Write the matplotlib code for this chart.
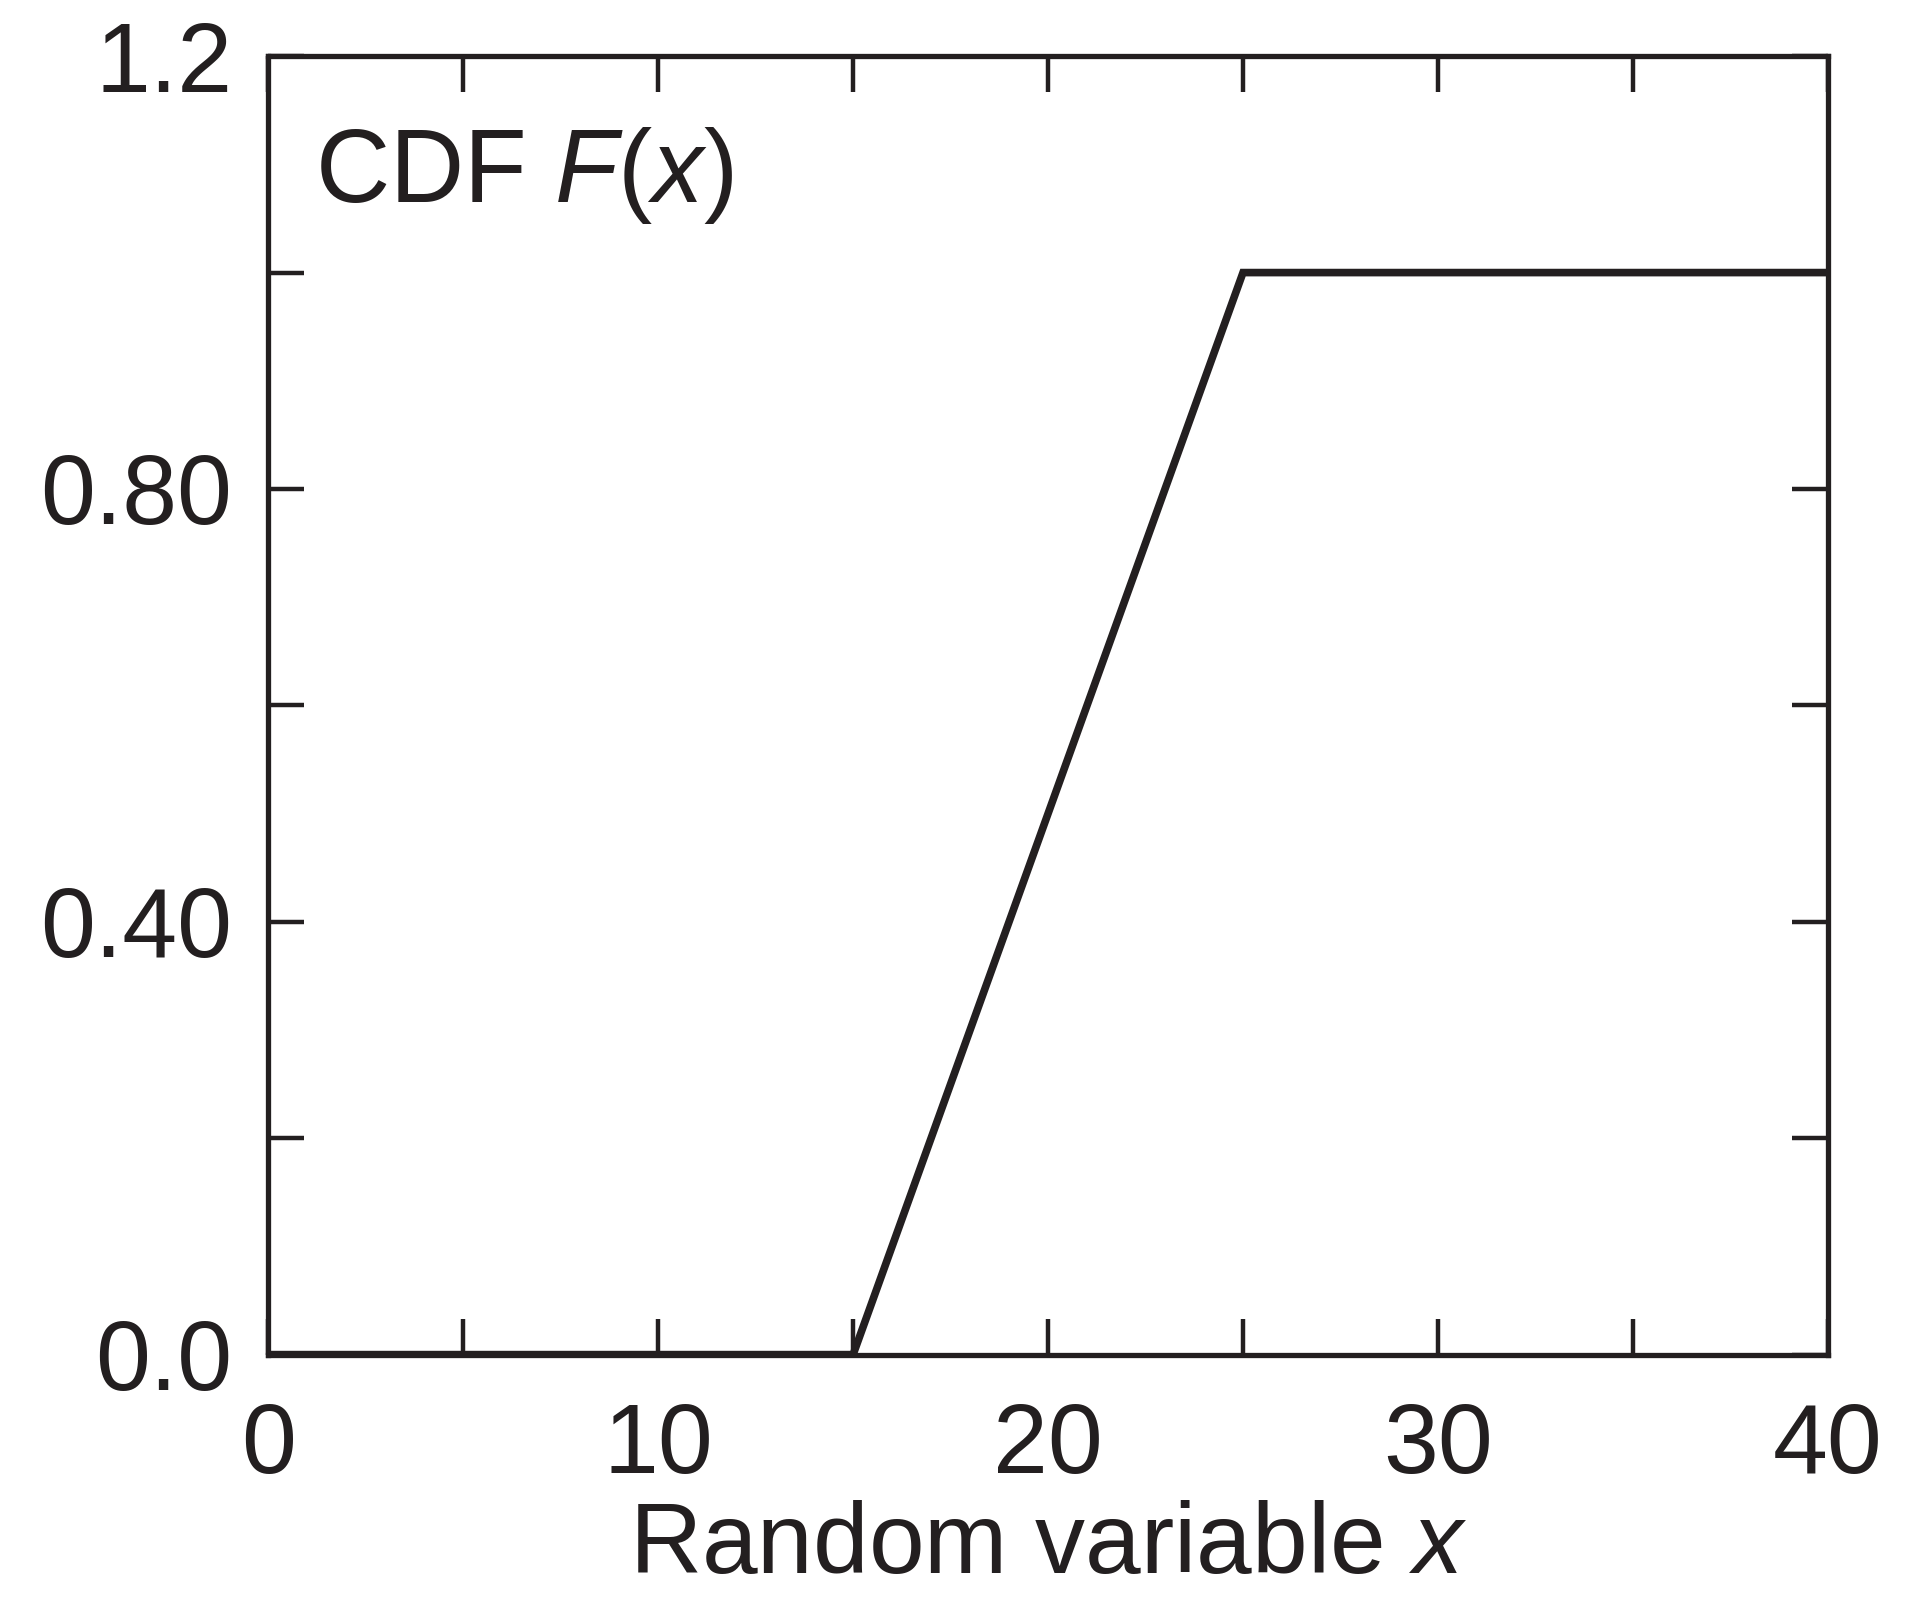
import numpy as np
import matplotlib
matplotlib.use("Agg")
import matplotlib.pyplot as plt
from matplotlib.ticker import MultipleLocator, FixedLocator

plt.rcParams["font.family"] = "Liberation Sans"
plt.rcParams["mathtext.fontset"] = "custom"
plt.rcParams["mathtext.rm"] = "Liberation Sans"
plt.rcParams["mathtext.it"] = "Liberation Sans:italic"

# CDF of a uniform variable on [15, 25]
x_vals = [0, 15, 25, 40]
cdf_vals = [0.0, 0.0, 1.0, 1.0]

x_ticks = [0, 10, 20, 30, 40]
y_ticks = [0.0, 0.4, 0.8, 1.2]
y_ticklabels = ["0.0", "0.40", "0.80", "1.2"]

ink = "#231f20"

fig = plt.figure(figsize=(19.16, 16.05), dpi=100)
ax = fig.add_axes([0.140, 0.156, 0.814, 0.809])

ax.plot(x_vals, cdf_vals, color=ink, lw=5.5, solid_joinstyle="miter")

ax.set_xlim(0, 40)
ax.set_ylim(0, 1.2)
ax.set_xticks(x_ticks)
ax.xaxis.set_minor_locator(MultipleLocator(5))
ax.set_yticks(y_ticks)
ax.set_yticklabels(y_ticklabels)
ax.yaxis.set_minor_locator(FixedLocator([0.2, 0.6, 1.0]))

for which in ("major", "minor"):
    ax.tick_params(axis="both", which=which, direction="in", length=26,
                   width=3.2, color=ink, top=True, right=True,
                   labelsize=71, labelcolor=ink)
ax.tick_params(axis="x", which="major", pad=34)
ax.tick_params(axis="y", which="major", pad=26)

for s in ax.spines.values():
    s.set_linewidth(3.8)
    s.set_color(ink)

ax.set_xlabel("Random variable $x$", fontsize=72, color=ink, labelpad=5)
ax.text(0.03, 0.908, "CDF $F$($x$)", transform=ax.transAxes,
        fontsize=74, color=ink, va="center", ha="left")

fig.savefig("out.png", dpi=100)
